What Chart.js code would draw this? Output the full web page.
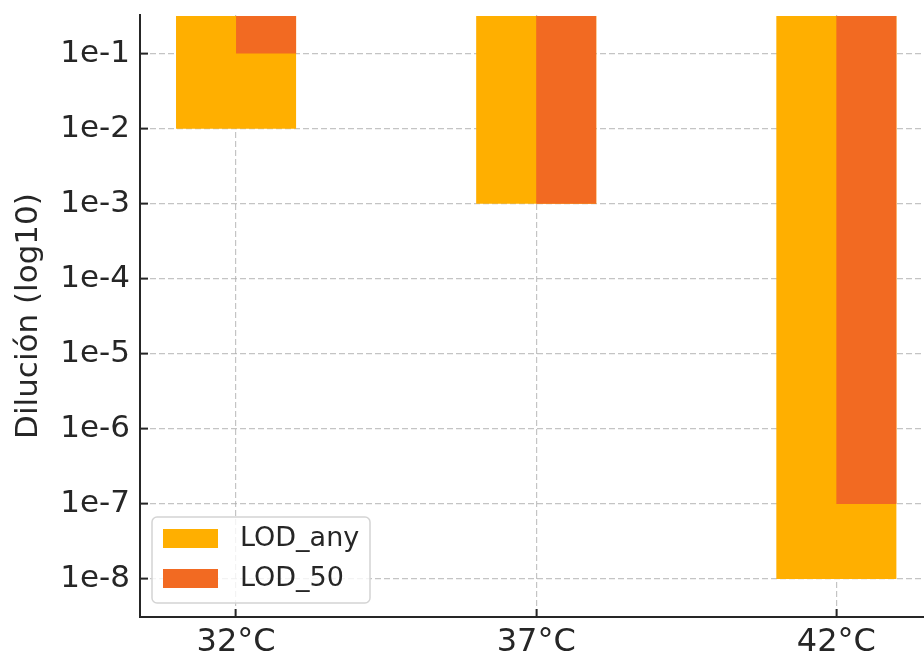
<!DOCTYPE html>
<html>
<head>
<meta charset="utf-8">
<script src="https://cdn.jsdelivr.net/npm/chart.js@4/dist/chart.umd.min.js"></script>
<style>
  html, body { margin: 0; padding: 0; background: #ffffff; }
  #wrap { width: 924px; height: 652px; }
</style>
</head>
<body>
<div id="wrap"><canvas id="chart" width="924" height="652"></canvas></div>
<script>
// Temperatures on the x axis
const categories = ['32°C', '37°C', '42°C'];
// Lowest dilution detected at all, and lowest dilution detected in ≥50% of replicates
const lodAny = [1e-2, 1e-3, 1e-8];
const lod50 = [1e-1, 1e-3, 1e-7];
// Upper end shared by all bars
const barTop = 0.316;
// Decade ticks on the log axis
const yTicks = [1e-8, 1e-7, 1e-6, 1e-5, 1e-4, 1e-3, 1e-2, 1e-1];
const yTickLabels = ['1e-8', '1e-7', '1e-6', '1e-5', '1e-4', '1e-3', '1e-2', '1e-1'];

const seriesNames = ['LOD_any', 'LOD_50'];
const seriesColors = ['#FFAF00', '#F26A22'];

const FONT = "'DejaVu Sans', 'Liberation Sans', sans-serif";
const INK = '#262626';
const GRID = 'rgba(176,176,176,0.75)';

// x range of the plot; the LOD_50 bars sit on a copy of this axis shifted by a tenth of a category
const X_MIN = -0.32, X_MAX = 2.292, HALF_SHIFT = 0.1;

Chart.defaults.font.family = FONT;
Chart.defaults.color = INK;

function toPoints(values) {
  return values.map((v, i) => ({ x: i, y: [v, barTop] }));
}

// Legend box in the lower-left corner of the plot area
const cornerLegend = {
  id: 'cornerLegend',
  afterDraw(chart) {
    const { ctx, chartArea } = chart;
    const w = 218, h = 86;
    const left = chartArea.left + 12;
    const top = chartArea.bottom - 14 - h;
    ctx.save();
    ctx.beginPath();
    ctx.roundRect(left, top, w, h, 5);
    ctx.fillStyle = 'rgba(255,255,255,0.8)';
    ctx.fill();
    ctx.lineWidth = 1.5;
    ctx.strokeStyle = '#d4d4d4';
    ctx.stroke();
    ctx.font = '27px ' + FONT;
    ctx.textBaseline = 'middle';
    ctx.textAlign = 'left';
    chart.data.datasets.forEach((ds, i) => {
      const rowTop = top + 12 + i * 40;
      ctx.fillStyle = ds.backgroundColor;
      ctx.fillRect(left + 11, rowTop, 55, 19);
      ctx.fillStyle = INK;
      ctx.fillText(ds.label, left + 88, rowTop + 10);
    });
    ctx.restore();
  }
};

new Chart(document.getElementById('chart'), {
  type: 'bar',
  data: {
    datasets: [
      {
        label: seriesNames[0], data: toPoints(lodAny), backgroundColor: seriesColors[0],
        xAxisID: 'x', order: 1, grouped: false,
        categoryPercentage: 0.4, barPercentage: 1.0
      },
      {
        label: seriesNames[1], data: toPoints(lod50), backgroundColor: seriesColors[1],
        xAxisID: 'xHalf', order: 0, grouped: false,
        categoryPercentage: 0.4, barPercentage: 0.5
      }
    ]
  },
  options: {
    responsive: false,
    animation: false,
    devicePixelRatio: 1,
    layout: { padding: { top: 15, left: 0, right: 0, bottom: 0 } },
    datasets: {
      bar: { borderWidth: 0 }
    },
    plugins: {
      legend: { display: false },
      tooltip: { enabled: false }
    },
    scales: {
      x: {
        type: 'linear',
        position: 'bottom',
        min: X_MIN,
        max: X_MAX,
        offset: false,
        z: 1,
        afterBuildTicks(scale) {
          scale.ticks = categories.map((_, i) => ({ value: i }));
        },
        afterFit(scale) {
          scale.height = 35;
          scale.paddingLeft = 0;
          scale.paddingRight = 0;
        },
        ticks: {
          callback: (v) => categories[v] ?? '',
          font: { size: 32 },
          color: INK,
          padding: 14,
          maxRotation: 0,
          autoSkip: false
        },
        grid: {
          offset: false,
          color: GRID,
          lineWidth: 1.2,
          tickLength: -8,
          tickWidth: 2,
          tickColor: INK,
          tickBorderDash: []
        },
        border: { color: INK, width: 2, dash: [6, 3] }
      },
      xHalf: {
        type: 'linear',
        position: 'bottom',
        display: false,
        offset: false,
        min: X_MIN - HALF_SHIFT,
        max: X_MAX - HALF_SHIFT,
        afterBuildTicks(scale) {
          scale.ticks = categories.map((_, i) => ({ value: i }));
        }
      },
      y: {
        type: 'logarithmic',
        min: 3.11e-9,
        max: 0.327,
        z: 1,
        afterBuildTicks(scale) {
          scale.ticks = yTicks.map(v => ({ value: v }));
        },
        afterFit(scale) {
          scale.width = 140;
          scale.paddingTop = 0;
          scale.paddingBottom = 0;
        },
        ticks: {
          callback: (v) => yTickLabels[yTicks.indexOf(v)] ?? '',
          font: { size: 31 },
          color: INK,
          padding: 18,
          autoSkip: false
        },
        grid: {
          color: GRID,
          lineWidth: 1.2,
          tickLength: -8,
          tickWidth: 2,
          tickColor: INK,
          tickBorderDash: []
        },
        border: { color: INK, width: 2, dash: [6, 3] },
        title: {
          display: true,
          text: 'Dilución (log10)',
          font: { size: 31 },
          color: INK,
          padding: { top: 10, bottom: 0 }
        }
      }
    }
  },
  plugins: [cornerLegend]
});
</script>
</body>
</html>
